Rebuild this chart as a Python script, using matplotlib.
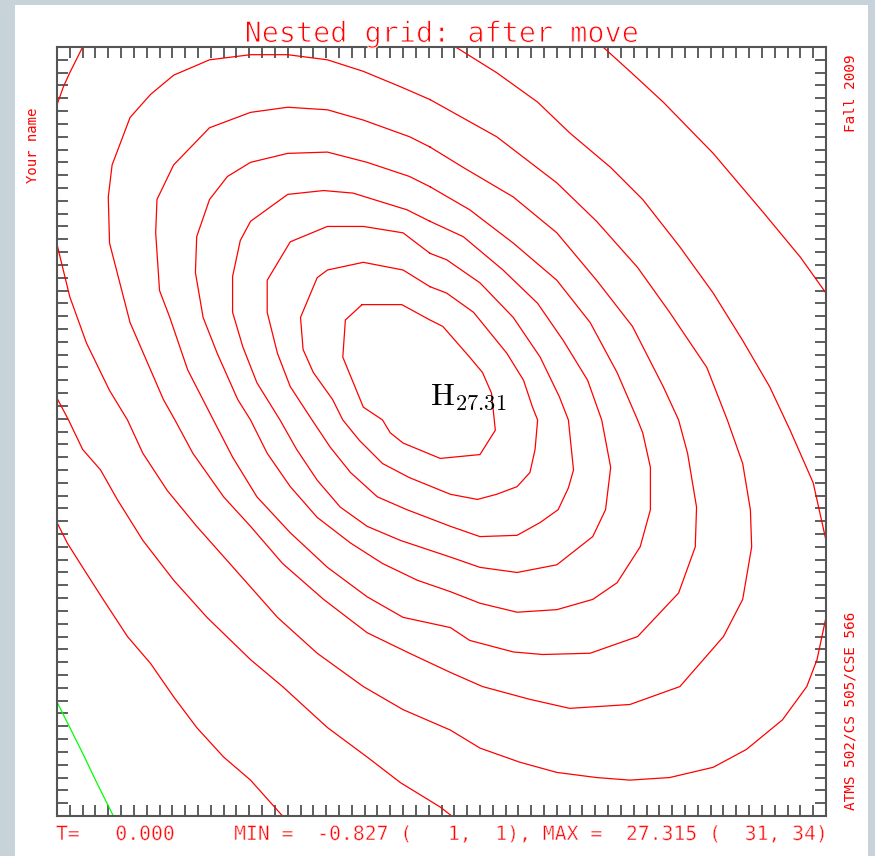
import math
import matplotlib
matplotlib.use("Agg")
import matplotlib.pyplot as plt
import matplotlib.patheffects as pe
from matplotlib.patches import Rectangle

plt.rcParams['mathtext.fontset'] = 'cm'

# grid summary (61 x 61 nested grid)
n_pts = 61
t_now = 0.0
fld_min = -0.827
min_at = (1, 1)
fld_max = 27.315
max_at = (31, 34)

title = 'Nested grid: after move'
left_note = 'Your name'
right_top_note = 'Fall 2009'
right_bot_note = 'ATMS 502/CS 505/CSE 566'

# contour lines, (i, j) grid points, interval 2.5
c250 = [(24.8, 40.9), (27.9, 40.9), (30.1, 39.7), (31.1, 39.2), (33.2, 36.8), (34.2, 35.6),
        (34.9, 34.0), (35.2, 31.1), (34.0, 29.2), (30.9, 28.9), (28.0, 30.1), (27.0, 30.9),
        (26.4, 31.9), (24.9, 32.9), (23.3, 36.8), (23.5, 39.7)]
c225 = [(30.1, 42.3), (28.0, 43.6), (24.9, 44.2), (22.1, 43.6), (21.3, 43.0), (20.0, 39.9),
        (20.2, 37.4), (21.0, 35.6), (22.5, 33.5), (23.3, 31.9), (24.6, 30.3), (26.4, 28.5),
        (28.5, 27.4), (31.7, 26.1), (33.8, 25.7), (35.3, 26.1), (36.9, 26.7), (37.9, 27.8),
        (38.3, 29.6), (38.5, 31.9), (38.1, 32.9), (37.4, 35.0), (36.1, 37.1), (33.5, 40.3),
        (31.4, 41.8)]
c200 = [(30.1, 44.9), (28.0, 46.5), (24.9, 47.0), (22.1, 47.0), (19.2, 45.8), (17.4, 42.8),
        (17.4, 40.3), (18.2, 37.1), (19.2, 34.5), (20.9, 31.9), (22.3, 29.8), (23.9, 27.8),
        (26.0, 25.9), (28.3, 24.9), (31.7, 23.6), (34.0, 22.8), (36.9, 22.9), (38.7, 23.9),
        (40.1, 24.9), (40.9, 26.6), (41.3, 28.0), (40.9, 31.9), (40.2, 33.7), (38.7, 36.8),
        (36.6, 39.9), (34.0, 42.6), (31.4, 44.4)]
c175 = [(30.1, 47.4), (28.3, 48.3), (27.0, 48.7), (24.1, 49.6), (21.8, 49.8), (19.0, 49.5),
        (16.1, 47.4), (15.3, 45.9), (14.7, 43.1), (14.7, 40.3), (15.5, 37.6), (16.6, 34.8),
        (18.4, 31.9), (19.7, 29.6), (21.3, 27.2), (23.1, 25.1), (25.2, 23.6), (27.8, 22.5),
        (31.7, 21.2), (34.0, 20.4), (36.9, 20.0), (40.0, 20.6), (42.8, 22.8), (43.8, 24.9),
        (44.2, 28.2), (43.5, 31.9), (42.4, 35.0), (40.5, 38.1), (38.5, 41.0), (35.8, 43.6),
        (32.7, 46.2)]
c150 = [(30.1, 50.1), (28.5, 50.9), (25.2, 52.0), (22.1, 52.8), (19.0, 52.7), (16.1, 52.0),
        (14.3, 50.9), (12.9, 49.1), (11.9, 46.2), (11.8, 43.4), (12.4, 39.9), (13.5, 37.1),
        (15.1, 33.5), (16.1, 31.9), (17.4, 29.3), (19.2, 26.7), (21.3, 24.3), (23.9, 22.3),
        (26.4, 20.7), (29.1, 19.4), (31.7, 18.5), (34.0, 17.6), (36.9, 16.9), (40.0, 17.1),
        (42.8, 17.9), (44.7, 19.2), (46.5, 22.0), (47.3, 24.9), (47.3, 28.2), (46.7, 30.9),
        (46.3, 31.9), (44.7, 35.6), (42.6, 39.5), (40.0, 42.8), (36.6, 45.7), (33.2, 48.3)]
c125 = [(30.1, 53.2), (28.5, 54.0), (24.9, 55.3), (22.1, 56.1), (19.0, 56.3), (16.1, 55.9),
        (12.9, 54.7), (10.1, 51.8), (8.8, 49.1), (8.7, 46.5), (9.0, 42.0), (9.8, 39.9),
        (11.2, 35.8), (13.2, 31.9), (14.7, 29.0), (16.6, 25.9), (19.2, 23.1), (22.1, 20.4),
        (25.2, 18.1), (28.0, 16.5), (31.7, 15.7), (33.2, 14.7), (36.6, 13.8), (38.9, 13.6),
        (42.6, 13.7), (46.3, 15.0), (49.5, 18.4), (50.8, 22.0), (50.9, 25.1), (50.2, 29.3),
        (49.5, 31.9), (48.3, 34.5), (45.9, 39.2), (43.1, 42.8), (40.0, 46.5), (36.6, 49.3),
        (32.7, 51.6)]
c100 = [(30.1, 56.9), (27.8, 57.9), (24.9, 59.1), (22.1, 60.0), (19.0, 60.4), (16.1, 60.4),
        (12.9, 60.0), (10.1, 58.8), (8.3, 57.3), (6.7, 55.5), (5.3, 51.8), (5.0, 49.3),
        (5.1, 45.7), (6.7, 39.5), (9.3, 33.5), (10.2, 31.9), (11.6, 29.3), (14.0, 25.9),
        (16.1, 23.6), (18.6, 20.7), (21.8, 17.9), (25.2, 15.3), (28.5, 13.7), (31.7, 12.2),
        (34.2, 11.1), (37.9, 10.1), (41.0, 9.4), (45.7, 9.7), (49.6, 11.1), (53.0, 15.0),
        (54.5, 17.9), (55.2, 22.0), (55.1, 24.9), (54.5, 28.5), (53.3, 31.9), (51.7, 36.0),
        (48.8, 40.3), (46.3, 43.8), (43.1, 47.4), (40.0, 50.4), (35.3, 54.0)]
c075_corner = [(3.0, 61.0), (2.0, 59.0), (1.5, 57.9), (1.0, 56.5)]
c075_south = [(1.0, 45.6), (2.0, 41.5), (3.3, 37.9), (5.1, 34.2), (6.5, 31.9), (7.7, 29.3),
              (9.6, 26.4), (11.9, 23.6), (15.1, 20.0), (18.2, 16.5), (21.3, 13.7), (24.9, 11.1),
              (28.0, 9.3), (31.7, 7.7), (34.0, 6.3), (37.1, 5.2), (40.0, 4.4), (43.1, 4.0),
              (45.7, 3.8), (48.8, 4.0), (52.2, 4.8), (54.8, 6.2), (57.6, 8.5), (59.5, 11.1),
              (60.3, 13.2), (61.0, 16.5)]
c075_north = [(32.1, 61.0), (35.3, 59.0), (38.5, 56.7), (41.0, 54.3), (44.2, 51.6), (46.7, 49.1),
              (49.6, 45.4), (52.2, 41.8), (54.5, 38.1), (56.6, 34.5), (58.2, 31.1), (60.0, 27.0),
              (61.0, 22.5)]
c050_north = [(43.6, 61.0), (45.7, 59.1), (48.3, 56.7), (52.2, 52.7), (56.1, 48.1), (59.0, 44.6),
              (61.0, 41.8)]
c050_south = [(1.0, 33.6), (1.9, 31.9), (3.0, 29.6), (4.4, 28.0), (5.7, 25.7), (7.7, 22.5),
              (10.1, 19.4), (12.7, 16.5), (16.1, 13.2), (18.6, 11.1), (22.1, 7.9), (25.2, 5.6),
              (27.8, 3.6), (30.9, 1.7), (31.8, 1.0)]
c025 = [(1.0, 23.9), (1.8, 22.3), (3.0, 20.4), (4.6, 17.9), (6.5, 15.0), (8.3, 12.9),
        (10.1, 10.3), (11.9, 7.9), (14.0, 5.6), (16.1, 3.8), (18.6, 1.0)]
c000 = [(1.0, 9.9), (2.0, 7.9), (3.0, 5.9), (4.1, 3.6), (5.4, 1.0)]

closed_lines = [c250, c225, c200, c175, c150, c125, c100]
open_lines = [c075_corner, c075_south, c075_north, c050_north, c050_south, c025]
zero_lines = [c000]

W, H = 875, 856
fig = plt.figure(figsize=(W / 100, H / 100), dpi=100, facecolor='#c8d2d9')
fig.add_artist(Rectangle((15 / W, 0), (868 - 15) / W, 851 / H, transform=fig.transFigure,
                         facecolor='white', edgecolor='none', zorder=-5))

ax = fig.add_axes([57 / W, 40 / H, 769 / W, 769 / H])
ax.set_xlim(1, n_pts)
ax.set_ylim(1, n_pts)

red = '#ff0000'
for line in closed_lines:
    pts = line + [line[0]]
    ax.plot([p[0] for p in pts], [p[1] for p in pts], color=red, lw=0.9)
for line in open_lines:
    ax.plot([p[0] for p in line], [p[1] for p in line], color=red, lw=0.9)
for line in zero_lines:
    ax.plot([p[0] for p in line], [p[1] for p in line], color='#00ff00', lw=0.9)

# high label
hval = math.floor(fld_max * 100) / 100
ax.annotate(r'$\mathrm{H}_{%.2f}$' % hval, xy=max_at, xytext=(-8, -8),
            textcoords='offset points', ha='left', va='baseline', fontsize=23, color='black')

# frame and ticks
ax.set_xticks(range(1, n_pts + 1))
ax.set_yticks(range(1, n_pts + 1))
ax.tick_params(axis='both', which='both', direction='in', length=7.7, width=1.1,
               color='#333333', top=True, right=True, labelbottom=False, labelleft=False)
for s in ax.spines.values():
    s.set_linewidth(1.5)
    s.set_color('#555555')

# thin the glyph strokes a little, closer to the stroke font of the original
thin = [pe.Normal(), pe.Stroke(linewidth=0.7, foreground='white')]
thin_small = [pe.Normal(), pe.Stroke(linewidth=0.45, foreground='white')]

mono = 'DejaVu Sans Mono'
fig.text(441.5 / W, 1 - 42 / H, title, ha='center', va='baseline', fontsize=20.5,
         family=mono, color=red, path_effects=thin)
info = 'T={:8.3f}     MIN ={:8.3f} ({:4d},{:3d}), MAX ={:8.3f} ({:4d},{:3d})'.format(
    t_now, fld_min, min_at[0], min_at[1], fld_max, max_at[0], max_at[1])
fig.text(56 / W, 1 - 840 / H, info, ha='left', va='baseline', fontsize=14.2,
         family=mono, color=red, path_effects=thin_small)
fig.text(33 / W, 1 - 145 / H, left_note, rotation=90, ha='center', va='center',
         fontsize=10, family=mono, color=red)
fig.text(851 / W, 1 - 93 / H, right_top_note, rotation=90, ha='center', va='center',
         fontsize=10.3, family=mono, color=red)
fig.text(851 / W, 1 - 711 / H, right_bot_note, rotation=90, ha='center', va='center',
         fontsize=10.3, family=mono, color=red)

fig.savefig('out.png', dpi=100, facecolor=fig.get_facecolor())
